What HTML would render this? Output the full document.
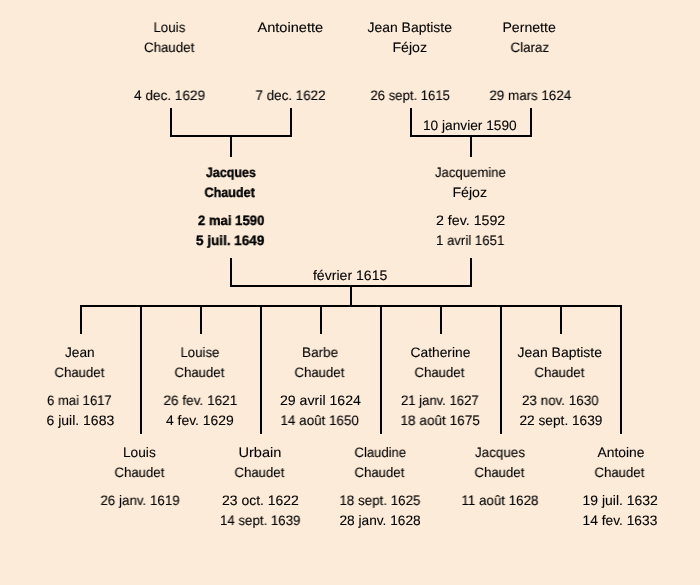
<!DOCTYPE html><html><head><meta charset="utf-8"><style>
html,body{margin:0;padding:0;width:700px;height:585px;overflow:hidden;background:#fcebd9}
body{position:relative;font-family:"Liberation Sans",sans-serif;font-size:13.7px;color:#000;text-rendering:geometricPrecision}
.t{position:absolute;width:200px;text-align:center;line-height:15px;white-space:nowrap;-webkit-text-stroke:0.1px #000}
.t span{display:inline-block;will-change:transform}
.b{font-weight:bold;-webkit-text-stroke:0.35px #000}
.l{position:absolute;background:#000}
</style></head><body>
<div class="l" style="left:170px;top:108px;width:2px;height:29px"></div>
<div class="l" style="left:290px;top:108px;width:2px;height:29px"></div>
<div class="l" style="left:170px;top:135px;width:122px;height:2px"></div>
<div class="l" style="left:230px;top:135px;width:2px;height:22px"></div>
<div class="l" style="left:410px;top:108px;width:2px;height:29px"></div>
<div class="l" style="left:530px;top:108px;width:2px;height:29px"></div>
<div class="l" style="left:410px;top:135px;width:122px;height:2px"></div>
<div class="l" style="left:470px;top:135px;width:2px;height:22px"></div>
<div class="l" style="left:230px;top:258px;width:2px;height:29px"></div>
<div class="l" style="left:470px;top:258px;width:2px;height:29px"></div>
<div class="l" style="left:230px;top:285px;width:242px;height:2px"></div>
<div class="l" style="left:350px;top:285px;width:2px;height:22px"></div>
<div class="l" style="left:80px;top:305px;width:542px;height:2px"></div>
<div class="l" style="left:80px;top:305px;width:2px;height:29px"></div>
<div class="l" style="left:200px;top:305px;width:2px;height:29px"></div>
<div class="l" style="left:320px;top:305px;width:2px;height:29px"></div>
<div class="l" style="left:440px;top:305px;width:2px;height:29px"></div>
<div class="l" style="left:560px;top:305px;width:2px;height:29px"></div>
<div class="l" style="left:140px;top:305px;width:2px;height:129px"></div>
<div class="l" style="left:260px;top:305px;width:2px;height:129px"></div>
<div class="l" style="left:380px;top:305px;width:2px;height:129px"></div>
<div class="l" style="left:500px;top:305px;width:2px;height:129px"></div>
<div class="l" style="left:620px;top:305px;width:2px;height:129px"></div>
<div class="t" style="left:70px;top:20px"><span style="transform:translate(-1.00px,0.00px) scaleX(0.9708)">Louis</span></div>
<div class="t" style="left:70px;top:40px"><span style="transform:translate(-0.75px,0.00px) scaleX(0.9721)">Chaudet</span></div>
<div class="t" style="left:70px;top:88px;font-size:13.7px"><span style="transform:translate(-0.25px,0.00px) scaleX(0.9937)">4 dec. 1629</span></div>
<div class="t" style="left:190px;top:20px"><span style="transform:translate(0.50px,0.00px) scaleX(1.0658)">Antoinette</span></div>
<div class="t" style="left:190px;top:88px;font-size:13.7px"><span style="transform:translate(0.75px,0.00px) scaleX(0.9796)">7 dec. 1622</span></div>
<div class="t" style="left:310px;top:20px"><span style="transform:translate(-0.75px,0.00px) scaleX(1.0187)">Jean Baptiste</span></div>
<div class="t" style="left:310px;top:40px"><span style="transform:scaleX(1.0339)">Féjoz</span></div>
<div class="t" style="left:310px;top:88px;font-size:13.7px"><span style="transform:translate(-0.25px,0.00px) scaleX(0.9578)">26 sept. 1615</span></div>
<div class="t" style="left:430px;top:20px"><span style="transform:translate(-0.75px,0.00px) scaleX(1.0307)">Pernette</span></div>
<div class="t" style="left:430px;top:40px"><span style="transform:scaleX(0.9744)">Claraz</span></div>
<div class="t" style="left:430px;top:88px;font-size:13.7px"><span style="transform:translate(0.50px,0.00px) scaleX(0.9769)">29 mars 1624</span></div>
<div class="t" style="left:370px;top:118px;font-size:13.7px"><span>10 janvier 1590</span></div>
<div class="t b" style="left:130px;top:165px"><span style="transform:translate(0.50px,0.00px) scaleX(0.9106)">Jacques</span></div>
<div class="t b" style="left:130px;top:185px"><span style="transform:translate(-0.75px,0.00px) scaleX(0.9193)">Chaudet</span></div>
<div class="t b" style="left:130px;top:213px;font-size:13.7px"><span style="transform:translate(1.50px,0.00px) scaleX(0.9581)">2 mai 1590</span></div>
<div class="t b" style="left:130px;top:233px;font-size:13.7px"><span style="transform:translate(0.50px,0.00px) scaleX(0.9859)">5 juil. 1649</span></div>
<div class="t" style="left:370px;top:165px"><span style="transform:translate(0.50px,0.00px) scaleX(0.9593)">Jacquemine</span></div>
<div class="t" style="left:370px;top:185px"><span style="transform:scaleX(1.0339)">Féjoz</span></div>
<div class="t" style="left:370px;top:213px;font-size:13.7px"><span style="transform:translate(0.25px,0.00px) scaleX(1.0388)">2 fev. 1592</span></div>
<div class="t" style="left:370px;top:233px;font-size:13.7px"><span style="transform:translate(-0.25px,0.00px) scaleX(0.9650)">1 avril 1651</span></div>
<div class="t" style="left:250px;top:268px;font-size:13.7px"><span style="transform:scaleX(1.0288)">février 1615</span></div>
<div class="t" style="left:-20px;top:345px"><span style="transform:scaleX(1.0014)">Jean</span></div>
<div class="t" style="left:-20px;top:365px"><span style="transform:translate(-0.50px,0.00px) scaleX(0.9622)">Chaudet</span></div>
<div class="t" style="left:-20px;top:393px;font-size:13.7px"><span style="transform:translate(-0.50px,0.00px) scaleX(0.9556)">6 mai 1617</span></div>
<div class="t" style="left:-20px;top:413px;font-size:13.7px"><span style="transform:translate(0.25px,0.00px) scaleX(1.0233)">6 juil. 1683</span></div>
<div class="t" style="left:100px;top:345px"><span style="transform:translate(-0.25px,0.00px) scaleX(0.9639)">Louise</span></div>
<div class="t" style="left:100px;top:365px"><span style="transform:translate(-0.50px,0.00px) scaleX(0.9622)">Chaudet</span></div>
<div class="t" style="left:100px;top:393px;font-size:13.7px"><span style="transform:translate(0.25px,0.00px) scaleX(0.9937)">26 fev. 1621</span></div>
<div class="t" style="left:100px;top:413px;font-size:13.7px"><span style="transform:translate(-0.50px,0.00px) scaleX(1.0158)">4 fev. 1629</span></div>
<div class="t" style="left:220px;top:345px"><span style="transform:translate(-0.25px,0.00px) scaleX(0.9886)">Barbe</span></div>
<div class="t" style="left:220px;top:365px"><span style="transform:translate(-0.50px,0.00px) scaleX(0.9622)">Chaudet</span></div>
<div class="t" style="left:220px;top:393px;font-size:13.7px"><span style="transform:translate(0.25px,0.00px) scaleX(1.0325)">29 avril 1624</span></div>
<div class="t" style="left:220px;top:413px;font-size:13.7px"><span style="transform:translate(-0.25px,0.00px) scaleX(0.9814)">14 août 1650</span></div>
<div class="t" style="left:340px;top:345px"><span style="transform:translate(0.75px,0.00px) scaleX(1.0090)">Catherine</span></div>
<div class="t" style="left:340px;top:365px"><span style="transform:translate(-0.50px,0.00px) scaleX(0.9622)">Chaudet</span></div>
<div class="t" style="left:340px;top:393px;font-size:13.7px"><span style="transform:translate(0.25px,0.00px) scaleX(0.9571)">21 janv. 1627</span></div>
<div class="t" style="left:340px;top:413px;font-size:13.7px"><span style="transform:translate(0.25px,0.00px) scaleX(0.9942)">18 août 1675</span></div>
<div class="t" style="left:460px;top:345px"><span style="transform:translate(-0.75px,0.00px) scaleX(1.0187)">Jean Baptiste</span></div>
<div class="t" style="left:460px;top:365px"><span style="transform:translate(-0.50px,0.00px) scaleX(0.9622)">Chaudet</span></div>
<div class="t" style="left:460px;top:393px;font-size:13.7px"><span style="transform:translate(0.25px,0.00px) scaleX(0.9812)">23 nov. 1630</span></div>
<div class="t" style="left:460px;top:413px;font-size:13.7px"><span style="transform:translate(0.50px,0.00px)">22 sept. 1639</span></div>
<div class="t" style="left:40px;top:445px"><span style="transform:translate(-1.00px,0.00px) scaleX(1.0018)">Louis</span></div>
<div class="t" style="left:40px;top:465px"><span style="transform:translate(-0.50px,0.00px) scaleX(0.9622)">Chaudet</span></div>
<div class="t" style="left:40px;top:493px;font-size:13.7px"><span style="transform:translate(0.50px,0.00px) scaleX(0.9762)">26 janv. 1619</span></div>
<div class="t" style="left:160px;top:445px"><span style="transform:translate(-0.25px,0.00px) scaleX(1.0650)">Urbain</span></div>
<div class="t" style="left:160px;top:465px"><span style="transform:translate(-0.50px,0.00px) scaleX(0.9622)">Chaudet</span></div>
<div class="t" style="left:160px;top:493px;font-size:13.7px"><span style="transform:translate(0.75px,0.00px) scaleX(1.0204)">23 oct. 1622</span></div>
<div class="t" style="left:160px;top:513px;font-size:13.7px"><span style="transform:translate(-0.25px,0.00px) scaleX(0.9697)">14 sept. 1639</span></div>
<div class="t" style="left:280px;top:445px"><span style="transform:translate(0.25px,0.00px) scaleX(0.9543)">Claudine</span></div>
<div class="t" style="left:280px;top:465px"><span style="transform:translate(-0.50px,0.00px) scaleX(0.9622)">Chaudet</span></div>
<div class="t" style="left:280px;top:493px;font-size:13.7px"><span style="transform:translate(-0.50px,0.00px) scaleX(0.9762)">18 sept. 1625</span></div>
<div class="t" style="left:280px;top:513px;font-size:13.7px"><span style="transform:translate(0.50px,0.00px) scaleX(1.0011)">28 janv. 1628</span></div>
<div class="t" style="left:400px;top:445px"><span style="transform:translate(-0.50px,0.00px) scaleX(0.9816)">Jacques</span></div>
<div class="t" style="left:400px;top:465px"><span style="transform:translate(-0.50px,0.00px) scaleX(0.9622)">Chaudet</span></div>
<div class="t" style="left:400px;top:493px;font-size:13.7px"><span style="transform:translate(-0.50px,0.00px) scaleX(0.9747)">11 août 1628</span></div>
<div class="t" style="left:520px;top:445px"><span style="transform:translate(0.75px,0.00px) scaleX(1.0117)">Antoine</span></div>
<div class="t" style="left:520px;top:465px"><span style="transform:translate(-0.50px,0.00px) scaleX(0.9622)">Chaudet</span></div>
<div class="t" style="left:520px;top:493px;font-size:13.7px"><span style="transform:translate(0.25px,0.00px) scaleX(1.0217)">19 juil. 1632</span></div>
<div class="t" style="left:520px;top:513px;font-size:13.7px"><span style="transform:translate(-0.25px,0.00px) scaleX(1.0073)">14 fev. 1633</span></div>
</body></html>
